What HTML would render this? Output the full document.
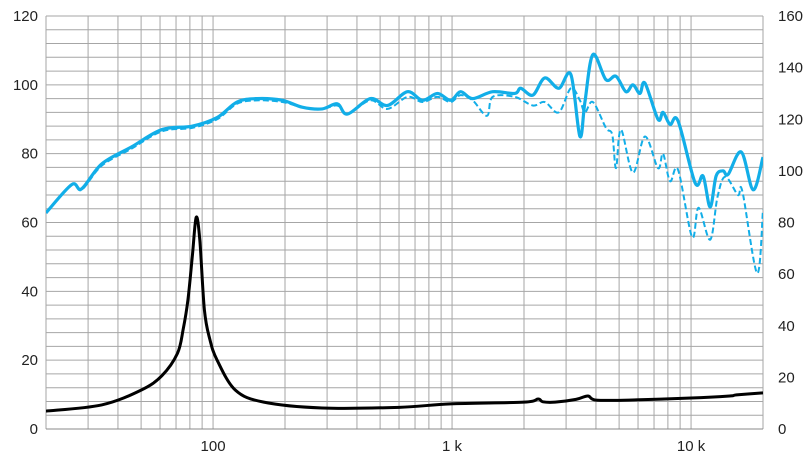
<!DOCTYPE html>
<html><head><meta charset="utf-8"><style>
body{margin:0;background:#fff;font-family:"Liberation Sans",Arial,sans-serif}
svg text{font-family:"Liberation Sans",Arial,sans-serif;font-size:15px;fill:#222}
</style></head><body>
<svg id="chart" width="812" height="461" viewBox="0 0 812 461">
<g id="grid"></g>
<g id="axes"></g>
<g id="series"></g>
</svg>
<script>
const freqSolid=[20,25.6,28.2,34.2,45.7,61.1,81.7,104,126,153,195,236,286,331,365,455,537,651,752,869,986,1086,1219,1479,1829,1938,2177,2443,2797,3141,3427,3597,3884,4404,4852,5339,5712,6109,6415,7272,7634,8166,8824,10400,11230,12020,12730,13620,14300,16220,18200,20000];
const splSolid=[62.8,71,69.8,77,82,87,88,90.5,95,96,95.5,93.5,93,94.5,91.5,96,94,98,95.5,97.5,95.5,98,96,98,97.5,99,97,102,99,103,85,95,108.8,101.5,102.5,98,100,97.5,100.5,90,92,88.5,89.5,71.5,73.5,64.5,73.5,75,74,80.5,69.5,79];
const freqDash=[20,25.6,28.2,34.2,45.7,61.1,81.7,104,126,153,195,236,286,331,365,455,537,651,752,869,986,1086,1219,1400,1479,1829,2177,2443,2797,3141,3427,3597,3884,4404,4680,4852,5090,5712,6415,7272,7634,8166,8824,10100,10750,12020,12900,13900,15700,16400,18900,20000];
const splDash=[62.8,71,69.5,76.5,81.5,86.5,87.5,90,94.5,95.5,95,93.5,93,94,91.5,95.5,93,96.5,95,96.5,95,97,95.5,91,96.5,96.5,94,95,92,99,95.5,92,95,87.5,85.5,75.8,87,74.5,85,75.8,80,72,75.3,55.8,64.3,55,67.4,73.3,68,69,45.3,63.7];
const freqImp=[20,34.2,50,61.1,71,75,78.5,82,85,88,92,97,104,124,163,286,600,986,2000,2290,2400,2700,3300,3700,4000,5500,10000,14500,15500,20000];
const splImp=[5.2,7,11.3,15.5,22,29,37.5,50.6,61.5,55,34.6,26,20,11.3,7.8,6.1,6.3,7.3,7.8,8.7,7.9,7.8,8.6,9.6,8.4,8.4,9,9.6,9.9,10.5];
const xTickVals=[100,1000,10000];
const xTickLabels=["100","1 k","10 k"];
const yLeftTicks=[0,20,40,60,80,100,120];
const yRightTicks=[0,20,40,60,80,100,120,140,160];

const X0=46,X1=763,Y0=429,Y1=16;
const lx=f=>X0+(Math.log10(f)-Math.log10(20))/(Math.log10(20000)-Math.log10(20))*(X1-X0);
const ly=v=>Y0-v/120*(Y0-Y1);
const ry=v=>Y0-v/160*(Y0-Y1);
const NS="http://www.w3.org/2000/svg";
function mk(p,t,a){const e=document.createElementNS(NS,t);for(const k in a)e.setAttribute(k,a[k]);p.appendChild(e);return e;}
const grid=document.getElementById('grid'),axes=document.getElementById('axes'),ser=document.getElementById('series');
// vertical grid
const vf=[];for(let d=10;d<=10000;d*=10)for(let m=1;m<10;m++){const f=d*m;if(f>=20&&f<=20000)vf.push(f);}vf.push(20000);
vf.forEach(f=>{const x=lx(f);const l=mk(grid,'line',{x1:x,x2:x,y1:Y1,y2:Y0,stroke:'#a6a6a6','stroke-width':1});

});
for(let v=0;v<=120;v+=4){const y=ly(v);const l=mk(grid,'line',{x1:X0,x2:X1,y1:y,y2:y,stroke:'#a6a6a6','stroke-width':1});

}
const bl=mk(axes,'line',{x1:X0,x2:X1,y1:Y0,y2:Y0,stroke:'#888','stroke-width':1});


yLeftTicks.forEach(v=>{const t=mk(axes,'text',{x:X0-8,y:ly(v)+5,'text-anchor':'end'});t.textContent=v;

});
yRightTicks.forEach(v=>{const t=mk(axes,'text',{x:X1+15,y:ry(v)+5,'text-anchor':'start'});t.textContent=v;

});
xTickVals.forEach((f,i)=>{const t=mk(axes,'text',{x:lx(f),y:451,'text-anchor':'middle'});t.textContent=xTickLabels[i];

});
function path(fs,vs){const p=fs.map((f,i)=>[lx(f),ly(vs[i])]);let d='M'+p[0][0]+','+p[0][1];
for(let i=0;i<p.length-1;i++){const a=p[Math.max(0,i-1)],b=p[i],c=p[i+1],e=p[Math.min(p.length-1,i+2)];
d+=' C'+(b[0]+(c[0]-a[0])/6)+','+(b[1]+(c[1]-a[1])/6)+' '+(c[0]-(e[0]-b[0])/6)+','+(c[1]-(e[1]-b[1])/6)+' '+c[0]+','+c[1];}return d;}
const cp=mk(ser,'clipPath',{id:'cl'});mk(cp,'rect',{x:X0,y:Y1,width:X1-X0,height:Y0-Y1});
const g=mk(ser,'g',{'clip-path':'url(#cl)'});
const s2=mk(g,'path',{d:path(freqDash,splDash),fill:'none',stroke:'#12aee8','stroke-width':2,'stroke-dasharray':'6,3'});


const s1=mk(g,'path',{d:path(freqSolid,splSolid),fill:'none',stroke:'#12aee8','stroke-width':3.2,'stroke-linejoin':'round'});


const s3=mk(g,'path',{d:path(freqImp,splImp),fill:'none',stroke:'#000','stroke-width':3,'stroke-linejoin':'round'});


</script>
</body></html>
